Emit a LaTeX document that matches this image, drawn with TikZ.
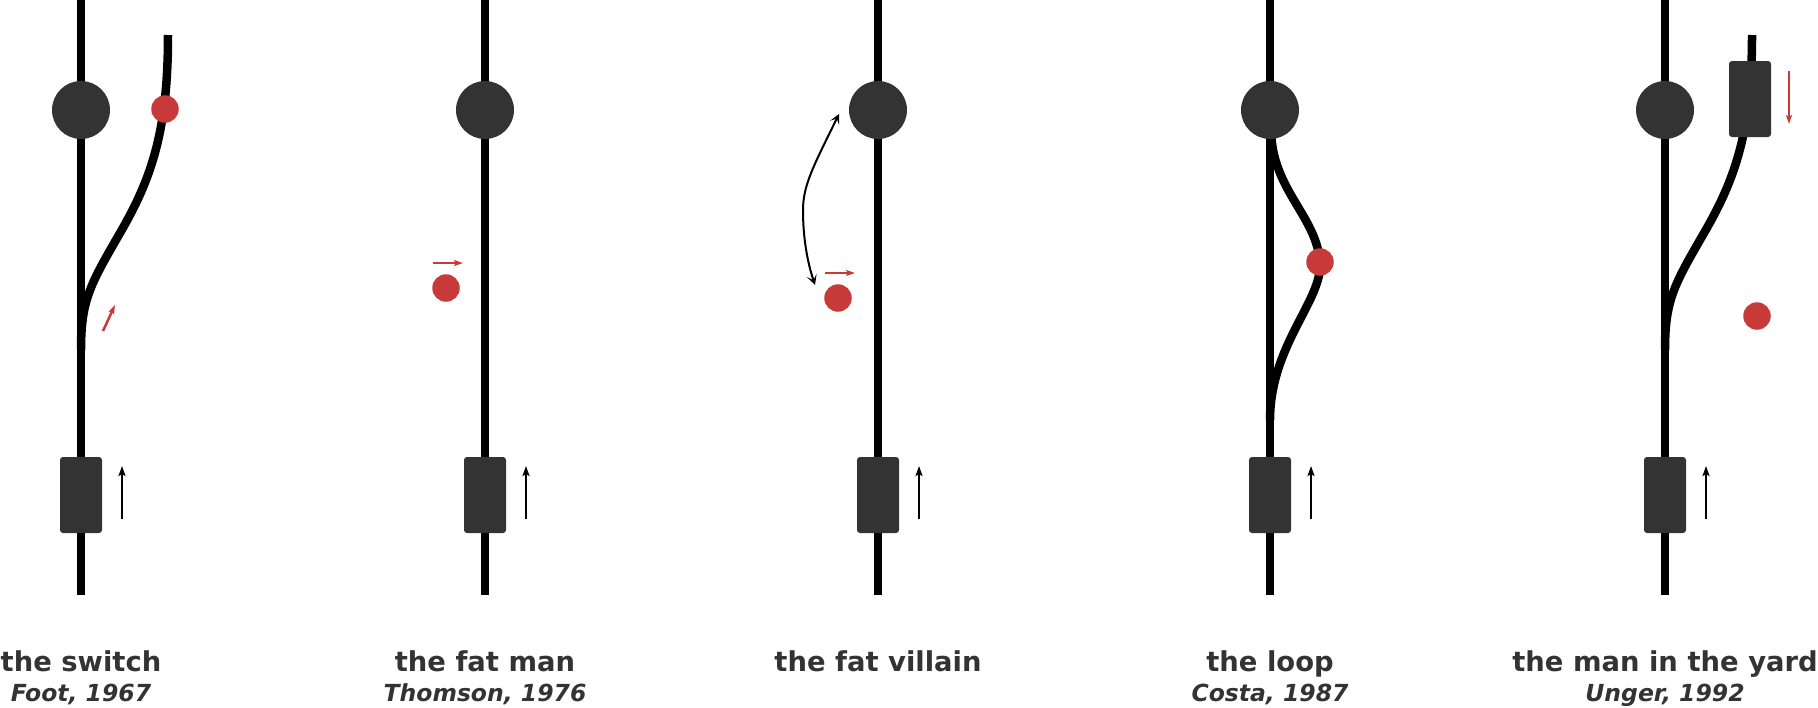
\documentclass[tikz,border=0pt]{standalone}
\usepackage{fontspec}
\setmainfont{DejaVu Sans}
\usetikzlibrary{arrows.meta}
\definecolor{dark}{HTML}{333333}
\definecolor{redd}{HTML}{C83A3A}
\tikzset{
  track/.style={line width=8.5pt, black},
  head/.style={circle, fill=dark, minimum size=58pt, inner sep=0pt},
  person/.style={circle, fill=redd, minimum size=27.5pt, inner sep=0pt},
  train/.style={rectangle, rounded corners=3pt, fill=dark, minimum width=42pt, minimum height=76pt, inner sep=0pt},
  blackarrow/.style={line width=2.5pt, black, -{Stealth[length=10pt,width=7pt,inset=2pt]}},
  redarrow/.style={line width=2.5pt, redd, -{Stealth[length=9pt,width=6pt,inset=2pt]}},
  swing/.style={line width=2pt, black, {Stealth[length=10pt,width=10pt,inset=5pt]}-{Stealth[length=10pt,width=10pt,inset=5pt]}},
  title/.style={anchor=base, text=dark, font=\fontsize{27.4}{30}\selectfont\bfseries, inner sep=0pt},
  subtitle/.style={anchor=base, text=dark, font=\fontsize{23.5}{26}\selectfont\bfseries\itshape, inner sep=0pt}
}
\begin{document}
\begin{tikzpicture}[x=1pt,y=-1pt]
\useasboundingbox (0,0) rectangle (1818,707);
% ---------- Panel 1: the switch ----------
\coordinate (t1top) at (81,0); \coordinate (t1bot) at (81,595);
\coordinate (b1top) at (168,35); \coordinate (b1mid) at (120,233); \coordinate (b1end) at (81,350);
\draw[track] (t1top) -- (t1bot);
\draw[track] (b1top) .. controls (168,130) and (152,178) .. (b1mid) .. controls (90,285) and (81,300) .. (b1end);
\node[head] (h1) at (81,110) {};
\node[person] (p1) at (165,109) {};
\node[train] (tr1) at (81,495) {};
\coordinate (a1s) at (122,519); \coordinate (a1e) at (122,466);
\draw[blackarrow] (a1s) -- (a1e);
\coordinate (r1s) at (103,331); \coordinate (r1e) at (115,305);
\draw[redarrow] (r1s) -- (r1e);
\node[title] (ti1) at (81,671) {the switch};
\node[subtitle] (st1) at (81,701) {Foot, 1967};
% ---------- Panel 2: the fat man ----------
\coordinate (t2top) at (485,0); \coordinate (t2bot) at (485,595);
\draw[track] (t2top) -- (t2bot);
\node[head] (h2) at (485,110) {};
\node[person] (p2) at (446,288) {};
\node[train] (tr2) at (485,495) {};
\coordinate (a2s) at (526,519); \coordinate (a2e) at (526,466);
\draw[blackarrow] (a2s) -- (a2e);
\coordinate (r2s) at (433,263); \coordinate (r2e) at (463,263);
\draw[redarrow] (r2s) -- (r2e);
\node[title] (ti2) at (485,671) {the fat man};
\node[subtitle] (st2) at (485,701) {Thomson, 1976};
% ---------- Panel 3: the fat villain ----------
\coordinate (t3top) at (878,0); \coordinate (t3bot) at (878,595);
\draw[track] (t3top) -- (t3bot);
\node[head] (h3) at (878,110) {};
\node[person] (p3) at (838,298) {};
\node[train] (tr3) at (878,495) {};
\coordinate (a3s) at (919,519); \coordinate (a3e) at (919,466);
\draw[blackarrow] (a3s) -- (a3e);
\coordinate (r3s) at (825,273); \coordinate (r3e) at (855,273);
\draw[redarrow] (r3s) -- (r3e);
\coordinate (s3a) at (839,114); \coordinate (s3m) at (803,210); \coordinate (s3b) at (815,285);
\draw[swing] (s3a) .. controls (814,165) and (803,185) .. (s3m) .. controls (803,240) and (808,264) .. (s3b);
\node[title] (ti3) at (878,671) {the fat villain};
% ---------- Panel 4: the loop ----------
\coordinate (t4top) at (1270,0); \coordinate (t4bot) at (1270,595);
\coordinate (l4a) at (1271,130); \coordinate (l4m) at (1320,262); \coordinate (l4b) at (1270,420);
\draw[track] (t4top) -- (t4bot);
\draw[track] (l4a) .. controls (1272,190) and (1316,215) .. (l4m) .. controls (1323,300) and (1270,345) .. (l4b);
\node[head] (h4) at (1270,110) {};
\node[person] (p4) at (1320,262) {};
\node[train] (tr4) at (1270,495) {};
\coordinate (a4s) at (1311,519); \coordinate (a4e) at (1311,466);
\draw[blackarrow] (a4s) -- (a4e);
\node[title] (ti4) at (1270,671) {the loop};
\node[subtitle] (st4) at (1270,701) {Costa, 1987};
% ---------- Panel 5: the man in the yard ----------
\coordinate (t5top) at (1665,0); \coordinate (t5bot) at (1665,595);
\coordinate (b5top) at (1752,35); \coordinate (b5mid) at (1704,233); \coordinate (b5end) at (1665,350);
\draw[track] (t5top) -- (t5bot);
\draw[track] (b5top) .. controls (1752,130) and (1736,178) .. (b5mid) .. controls (1674,285) and (1665,300) .. (b5end);
\node[head] (h5) at (1665,110) {};
\node[train] (tr5) at (1750,99) {};
\node[person] (p5) at (1757,316) {};
\node[train] (tr5b) at (1665,495) {};
\coordinate (a5s) at (1706,519); \coordinate (a5e) at (1706,466);
\draw[blackarrow] (a5s) -- (a5e);
\coordinate (r5s) at (1789,71); \coordinate (r5e) at (1789,124);
\draw[redarrow] (r5s) -- (r5e);
\node[title] (ti5) at (1665,671) {the man in the yard};
\node[subtitle] (st5) at (1665,701) {Unger, 1992};
\end{tikzpicture}
\end{document}
